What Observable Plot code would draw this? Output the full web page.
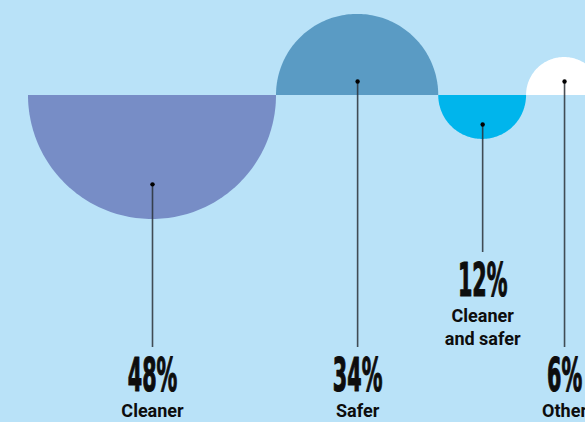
<!DOCTYPE html>
<html>
<head>
<meta charset="utf-8">
<script src="https://cdn.jsdelivr.net/npm/d3@7"></script>
<script src="https://cdn.jsdelivr.net/npm/@observablehq/plot@0.6"></script>
<style>
  html, body { margin: 0; padding: 0; background: #b9e2f8; overflow: hidden; }
  #chart { width: 585px; height: 422px; overflow: hidden; }
</style>
</head>
<body>
<div id="chart"></div>
<script>
// ---- data ----
const categories = ["Cleaner", "Safer", "Cleaner and safer", "Other"];
const labels = ["Cleaner", "Safer", "Cleaner\nand safer", "Other"];
const shares = [48, 34, 12, 6];                 // percent
const drawnSize = [48, 31.4, 17.0, 14.7];       // semicircle diameter as drawn (Cleaner = 48 units)
const side = [-1, 1, -1, 1];                    // -1 hangs below the line, 1 rises above
const pinLevel = [-17.2, 2.7, -5.6, 2.7];       // where each leader line starts (same units)
const labelRow = [0, 0, 1, 0];                  // 1 = label lifted to avoid the neighbour's line

// ---- layout ----
const W = 585, H = 422, left = 28, baseY = 95, k = 248 / 48;
const labelTopPx = [347, 252];
const py = (px) => (baseY - px) / k;
const colors = ["#778dc6", "#5a9bc4", "#00b5ec", "#ffffff"];

const ends = d3.cumsum(drawnSize);
const rows = categories.map((c, i) => ({
  cat: c,
  label: labels[i],
  share: shares[i],
  cx: ends[i] - drawnSize[i] / 2,
  r: drawnSize[i] / 2,
  side: side[i],
  pin: pinLevel[i],
  end: py(labelTopPx[labelRow[i]])
}));

// arc outline points (geometry of each semicircle)
const arcs = rows.flatMap(d => d3.range(0, 121).map(j => {
  const t = Math.PI - (Math.PI * j) / 120;
  return { cat: d.cat, x: d.cx + d.r * Math.cos(t), y: d.side * d.r * Math.sin(t) };
}));

const chart = Plot.plot({
  width: W,
  height: H,
  margin: 0,
  style: { background: "#b9e2f8", overflow: "hidden" },
  x: { domain: [-left / k, (W - left) / k], axis: null },
  y: { domain: [-(H - baseY) / k, baseY / k], axis: null },
  color: { domain: categories, range: colors },
  marks: [
    Plot.areaY(arcs, { x: "x", y1: 0, y2: "y", z: "cat", fill: "cat", curve: "linear" }),
    Plot.ruleX(rows, { x: "cx", y1: "pin", y2: "end", stroke: "#2a3138", strokeWidth: 1.6, strokeOpacity: 0.85 }),
    Plot.dot(rows, { x: "cx", y: "pin", r: 2.2, fill: "#000" }),
    Plot.text(rows, {
      x: "cx", y: "end", text: d => d.share + "%", dy: 43, lineAnchor: "bottom",
      fontSize: 46, fontWeight: "bold", fontFamily: "DejaVu Sans Condensed, DejaVu Sans, sans-serif",
      fill: "#0d0d0d", stroke: "#0d0d0d", strokeWidth: 1.2, textAnchor: "middle"
    }),
    Plot.text(rows, {
      x: "cx", y: "end", text: "label", dy: 53, lineAnchor: "top", lineHeight: 1.28,
      fontSize: 18, fontWeight: "bold", fontFamily: "Roboto, sans-serif",
      fill: "#0d0d0d", textAnchor: "middle"
    })
  ]
});

// squeeze the percentage figures into a tall condensed look
d3.select(chart).selectAll("text").each(function () {
  if (/%$/.test(this.textContent)) {
    const tr = this.getAttribute("transform");
    if (tr) this.setAttribute("transform", tr + " scale(0.5,1)");
  }
});

document.getElementById("chart").appendChild(chart);
</script>
</body>
</html>
